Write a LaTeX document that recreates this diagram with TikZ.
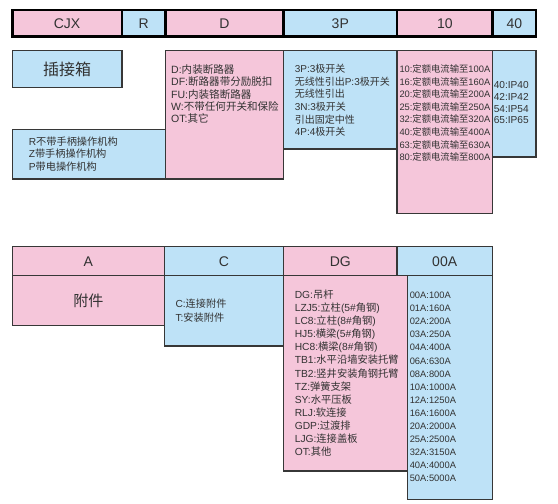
\documentclass[tikz,border=0pt]{standalone}
\usepackage{fontspec}
\setmainfont{Liberation Sans}
\newfontfamily\cjk{Noto Sans CJK SC}

% Chinese characters switch to the CJK family by themselves
\newXeTeXintercharclass\zhclass
\newcount\zhc
\zhc="2E80
\loop \XeTeXcharclass\zhc=\zhclass \advance\zhc by 1 \ifnum\zhc<"A000 \repeat
\XeTeXinterchartoks 0 \zhclass = {\cjk}
\XeTeXinterchartoks 4095 \zhclass = {\cjk}
\XeTeXinterchartoks \zhclass 0 = {\rmfamily}
\XeTeXinterchartoks 4095 0 = {\rmfamily}

\definecolor{pinkc}{RGB}{245,198,218}
\definecolor{bluec}{RGB}{190,226,247}
\definecolor{edgec}{RGB}{55,55,55}
\definecolor{txtc}{RGB}{50,50,50}

\tikzset{every picture/.style={line width=0.75pt}}
\tikzset{
  topcell/.style={draw=black, line width=2.2pt},
  hdrcell/.style={draw=edgec, line width=1.1pt},
  bodybox/.style={draw=edgec, line width=1.1pt},
  hdrtext/.style={text=txtc, font=\fontsize{10.5}{12}\selectfont},
  list/.style 2 args={anchor=north west, inner sep=0pt, align=left, text=txtc, font=\fontsize{#1}{#2}\selectfont}
}

\begin{document}
\XeTeXinterchartokenstate=1
\begin{tikzpicture}[x=0.75pt,y=0.75pt,yscale=-1,xscale=1]
	\path (0,0) rectangle (558,504); %set diagram size

	%Shape: Rectangle [body boxes, upper part] 
	\draw  [bodybox, fill=bluec] (12.3,50.7) rectangle (122,87.3) ;
	\draw  [bodybox, fill=bluec] (12.3,129.5) rectangle (165.5,179) ;
	\draw  [bodybox, fill=pinkc] (165.5,50.7) rectangle (283.5,179) ;
	\draw  [bodybox, fill=bluec] (283.5,50.7) rectangle (397,149) ;
	\draw  [bodybox, fill=pinkc] (397,50.7) rectangle (492.5,213.3) ;
	\draw  [bodybox, fill=bluec] (492.5,50.7) rectangle (536,157) ;

	%Shape: Rectangle [code row, upper part] 
	\draw  [topcell, fill=pinkc] (12.3,10) rectangle (122,36.5) ;
	\draw  [topcell, fill=bluec] (122,10) rectangle (165.5,36.5) ;
	\draw  [topcell, fill=pinkc] (165.5,10) rectangle (283.5,36.5) ;
	\draw  [topcell, fill=bluec] (283.5,10) rectangle (397,36.5) ;
	\draw  [topcell, fill=pinkc] (397,10) rectangle (492.5,36.5) ;
	\draw  [topcell, fill=bluec] (492.5,10) rectangle (536,36.5) ;

	%Shape: Rectangle [body boxes, lower part] 
	\draw  [bodybox, fill=pinkc] (12.3,275.7) rectangle (164.5,325.7) ;
	\draw  [bodybox, fill=bluec] (164.5,275.7) rectangle (283.5,346) ;
	\draw  [bodybox, fill=bluec] (407.3,275.7) rectangle (492.3,499.3) ;
	\draw  [bodybox, fill=pinkc] (283.5,275.7) rectangle (407.3,471) ;

	%Shape: Rectangle [code row, lower part] 
	\draw  [hdrcell, fill=pinkc] (12.3,246.7) rectangle (164.5,275.7) ;
	\draw  [hdrcell, fill=bluec] (164.5,246.7) rectangle (283.5,275.7) ;
	\draw  [hdrcell, fill=pinkc] (283.5,246.7) rectangle (397,275.7) ;
	\draw  [hdrcell, fill=bluec] (397,246.7) rectangle (492.3,275.7) ;

	% Text Node
	\draw (67,23.3) node [hdrtext] (cjx) {CJX};
	% Text Node
	\draw (143.8,23.3) node [hdrtext] (r) {R};
	% Text Node
	\draw (224.5,23.3) node [hdrtext] (d) {D};
	% Text Node
	\draw (340.3,23.3) node [hdrtext] (p3) {3P};
	% Text Node
	\draw (444.8,23.3) node [hdrtext] (i10) {10};
	% Text Node
	\draw (514.3,23.3) node [hdrtext] (ip40) {40};
	% Text Node
	\draw (67,69) node [hdrtext, font=\fontsize{12}{14}\selectfont] (box) {插接箱};
	% Text Node
	\draw (28.3,136.2) node [list={7.65}{9.4}] (rlist) {R不带手柄操作机构\\Z带手柄操作机构\\P带电操作机构};
	% Text Node
	\draw (170.7,64.2) node [list={7.9}{9.2}] (dlist) {D:内装断路器\\DF:断路器带分励脱扣\\FU:内装铬断路器\\W:不带任何开关和保险\\OT:其它};
	% Text Node
	\draw (294.3,63.5) node [list={7.5}{9.5}] (plist) {3P:3极开关\\无线性引出P:3极开关\\无线性引出\\3N:3极开关\\引出固定中性\\4P:4极开关};
	% Text Node
	\draw (399,64) node [list={7.0}{9.45}] (ilist) {10:定额电流输至100A\\16:定额电流输至160A\\20:定额电流输至200A\\25:定额电流输至250A\\32:定额电流输至320A\\40:定额电流输至400A\\63:定额电流输至630A\\80:定额电流输至800A};
	% Text Node
	\draw (493.3,81) node [list={7.6}{8.8}] (iplist) {40:IP40\\42:IP42\\54:IP54\\65:IP65};

	% Text Node
	\draw (88.4,261.2) node [hdrtext] (a) {A};
	% Text Node
	\draw (224,261.2) node [hdrtext] (c) {C};
	% Text Node
	\draw (340.3,261.2) node [hdrtext] (dg) {DG};
	% Text Node
	\draw (444.7,261.2) node [hdrtext] (a00) {00A};
	% Text Node
	\draw (88.4,301) node [hdrtext, font=\fontsize{11.3}{13}\selectfont] (acc) {附件};
	% Text Node
	\draw (175,298.5) node [list={7.65}{10.7}] (clist) {C:连接附件\\T:安装附件};
	% Text Node
	\draw (294.3,289.5) node [list={7.7}{9.8}] (dglist) {DG:吊杆\\LZJ5:立柱(5\#角钢)\\LC8:立柱(8\#角钢)\\HJ5:横梁(5\#角钢)\\HC8:横梁(8\#角钢)\\TB1:水平沿墙安装托臂\\TB2:竖井安装角钢托臂\\TZ:弹簧支架\\SY:水平压板\\RLJ:软连接\\GDP:过渡排\\LJG:连接盖板\\OT:其他};
	% Text Node
	\draw (409.3,291.7) node [list={7.0}{9.8}] (alist) {00A:100A\\01A:160A\\02A:200A\\03A:250A\\04A:400A\\06A:630A\\08A:800A\\10A:1000A\\12A:1250A\\16A:1600A\\20A:2000A\\25A:2500A\\32A:3150A\\40A:4000A\\50A:5000A};

\end{tikzpicture}
\end{document}
